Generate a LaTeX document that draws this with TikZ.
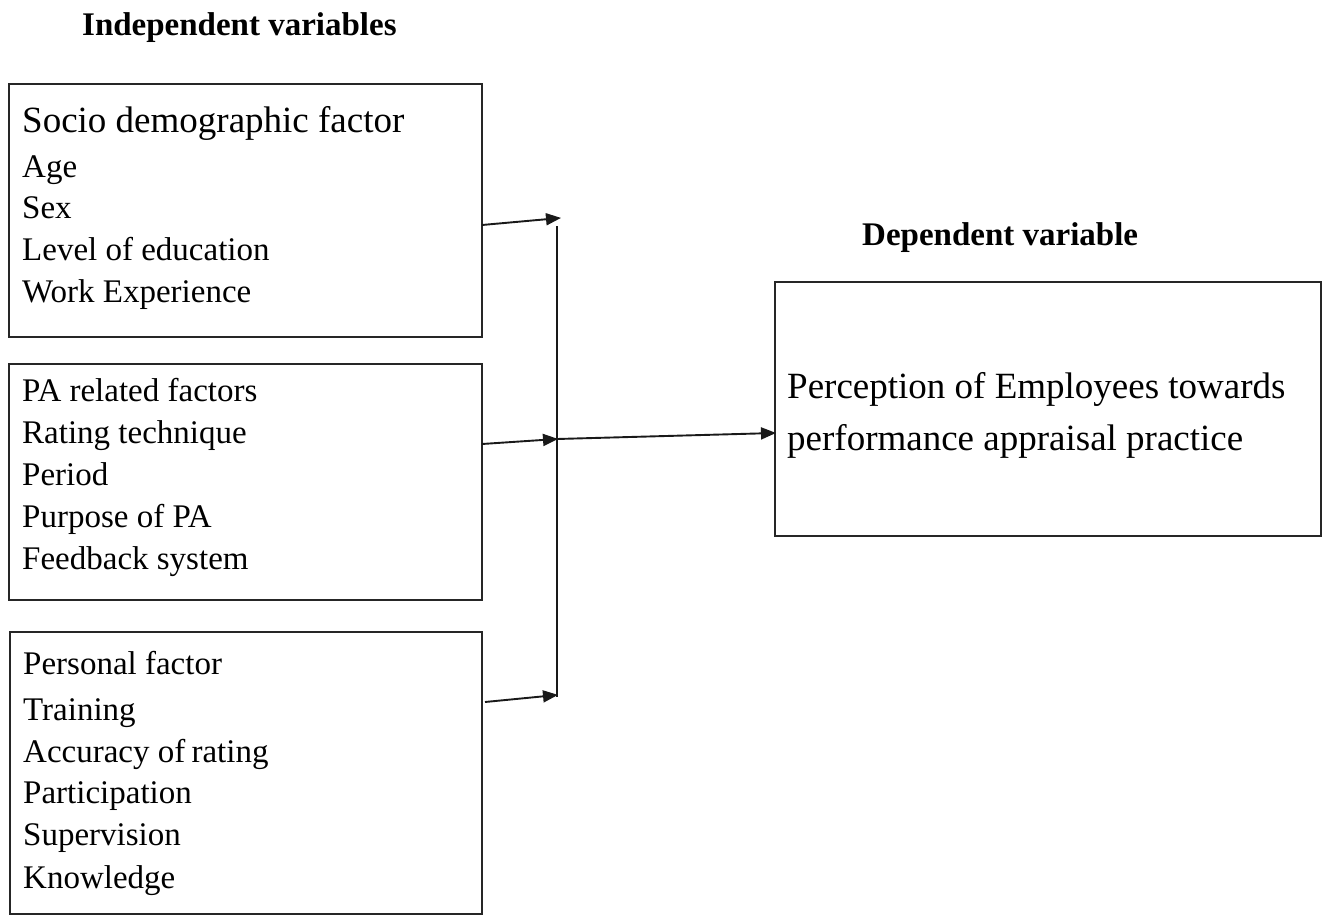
\documentclass[tikz,border=0pt]{standalone}
\usepackage{fontspec}
\setmainfont{Liberation Serif}
\usetikzlibrary{arrows.meta}
\tikzset{
  box/.style={draw=black!85, line width=1.6pt},
  item/.style={anchor=base west, inner sep=0pt, font=\fontsize{33}{38}\selectfont},
  head/.style={anchor=base west, inner sep=0pt, font=\fontsize{37}{44}\selectfont},
  title/.style={anchor=base west, inner sep=0pt, font=\fontsize{33}{40}\selectfont\bfseries},
  conn/.style={line width=1.9pt, black!90},
  arr/.style={conn, -{Triangle[length=15pt,width=12pt]}, shorten >=-1pt}
}
\begin{document}
\begin{tikzpicture}[x=1pt,y=-1pt]
\useasboundingbox (0,0) rectangle (1326,916);
% titles
\node[title] (tind) at (82,35) {Independent variables};
\node[title] (tdep) at (862,245) {Dependent variable};
% boxes
\draw[box] (9,84) rectangle (482,337);
\draw[box] (9,364) rectangle (482,600);
\draw[box] (10,632) rectangle (482,914);
\draw[box] (775,282) rectangle (1321,536);
% box 1 text
\node[head] (h1) at (22,132) {Socio demographic factor};
\node[item] (a1) at (22,177) {Age};
\node[item] (a2) at (22,218) {Sex};
\node[item] (a3) at (22,260) {Level of education};
\node[item] (a4) at (22,302) {Work Experience};
% box 2 text
\node[item] (h2) at (22,401) {PA related factors};
\node[item] (b1) at (22,443) {Rating technique};
\node[item] (b2) at (22,485) {Period};
\node[item] (b3) at (22,527) {Purpose of PA};
\node[item] (b4) at (22,569) {Feedback system};
% box 3 text
\node[item] (h3) at (23,674) {Personal factor};
\node[item] (c1) at (23,720) {Training};
\node[item] (c2) at (23,762) {Accuracy of\hspace{-2pt} rating};
\node[item] (c3) at (23,803) {Participation};
\node[item] (c4) at (23,845) {Supervision};
\node[item] (c5) at (23,888) {Knowledge};
% dependent text
\node[head] (d1) at (787,398) {Perception of Employees towards};
\node[head] (d2) at (787,450) {performance appraisal practice};
% connectors
\coordinate (s1) at (482,225);
\coordinate (t1) at (560,218);
\coordinate (s2) at (482,444);
\coordinate (t2) at (557,439);
\coordinate (s3) at (485,702);
\coordinate (t3) at (557,695);
\coordinate (vtop) at (557,226);
\coordinate (vbot) at (557,697);
\coordinate (t4) at (775,433);
\draw[conn] (vtop) -- (vbot);
\draw[arr] (s1) -- (t1);
\draw[arr] (s2) -- (t2);
\draw[arr] (s3) -- (t3);
\draw[arr] (t2) -- (t4);
\end{tikzpicture}
\end{document}
